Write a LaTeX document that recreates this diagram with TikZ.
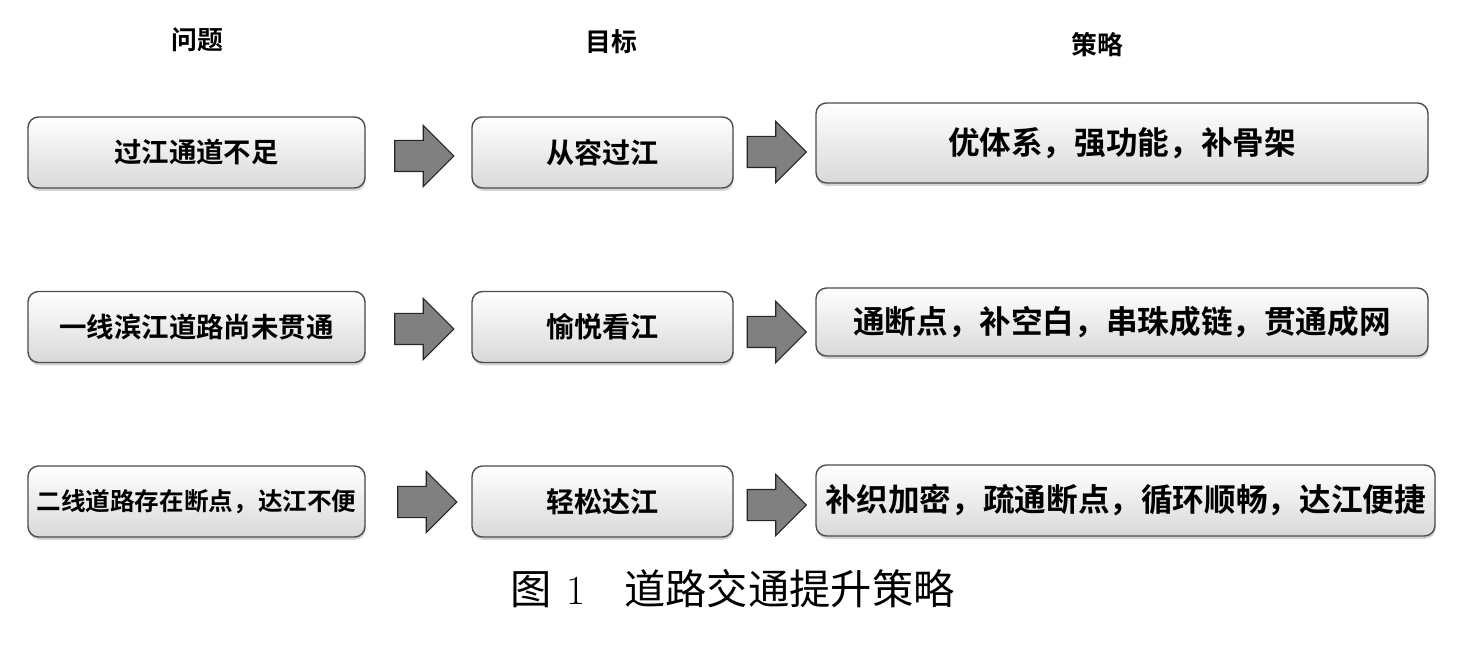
\documentclass[tikz,border=0pt]{standalone}
\usepackage{fontspec}
\usepackage{tikz}
\usetikzlibrary{shapes, shadows, arrows, positioning}
\newfontfamily\cjk{Noto Sans CJK SC}[BoldFont={* Bold}]

\tikzset{
  box/.style={draw=gray!60!black, line width=0.8pt, rounded corners=6pt,
    top color=white, bottom color=gray!30,
    drop shadow={shadow xshift=0.4pt, shadow yshift=-1.6pt, opacity=0.35},
    minimum height=1.42cm, inner sep=0pt,
    font=\cjk\bfseries\fontsize{15.6}{18}\selectfont},
  bigbox/.style={box, font=\cjk\bfseries\fontsize{18}{21}\selectfont},
  blockarrow/.style={single arrow, draw=black!85, fill=gray, line width=0.6pt,
    minimum height=1.18cm, minimum width=1.2cm, inner xsep=0pt, inner ysep=0.3cm,
    single arrow head extend=0.3cm},
  head/.style={font=\cjk\bfseries\fontsize{14.7}{17}\selectfont}
}

\begin{document}
\begin{tikzpicture}
        \useasboundingbox (0,0) rectangle (29.62,-13.06);
        \node[head] (h1) at (3.94,-0.80) {问题};
        \node[head] (h2) at (12.22,-0.84) {目标};
        \node[head] (h3) at (21.94,-0.90) {策略};

        \begin{scope}[every node/.style={box, minimum width=6.74cm}]
          \node (p1) at (3.93,-3.05) {过江通道不足};
          \node (p2) at (3.93,-6.54) {一线滨江道路尚未贯通};
          \node[font=\cjk\bfseries\fontsize{14}{17}\selectfont] (p3) at (3.93,-10.03) {二线道路存在断点，达江不便};
        \end{scope}
        \begin{scope}[every node/.style={box, minimum width=5.22cm, font=\cjk\bfseries\fontsize{16}{19}\selectfont}]
          \node (g1) at (12.05,-3.05) {从容过江};
          \node (g2) at (12.05,-6.54) {愉悦看江};
          \node (g3) at (12.05,-10.03) {轻松达江};
        \end{scope}
        \begin{scope}[every node/.style={bigbox, minimum width=12.24cm}]
          \node[minimum height=1.6cm] (s1) at (22.44,-2.86) {优体系，强功能，补骨架};
          \node[minimum height=1.36cm] (s2) at (22.44,-6.44) {通断点，补空白，串珠成链，贯通成网};
          \node[minimum width=12.38cm] (s3) at (22.51,-10.01) {补织加密，疏通断点，循环顺畅，达江便捷};
        \end{scope}

        \begin{scope}[every node/.style={blockarrow}]
          \node (a1) at (8.33,-3.12) {};
          \node (b1) at (15.38,-3.04) {};
          \node (a2) at (8.33,-6.58) {};
          \node (b2) at (15.38,-6.64) {};
          \node (a3) at (8.39,-10.04) {};
          \node (b3) at (15.38,-10.10) {};
        \end{scope}

        \node (cap) at (14.65,-11.78) {\fontsize{23.5}{28}\selectfont{\cjk 图}\hspace{0.35em}1\hspace{0.95em}{\cjk 道路交通提升策略}};
      \end{tikzpicture}
\end{document}
